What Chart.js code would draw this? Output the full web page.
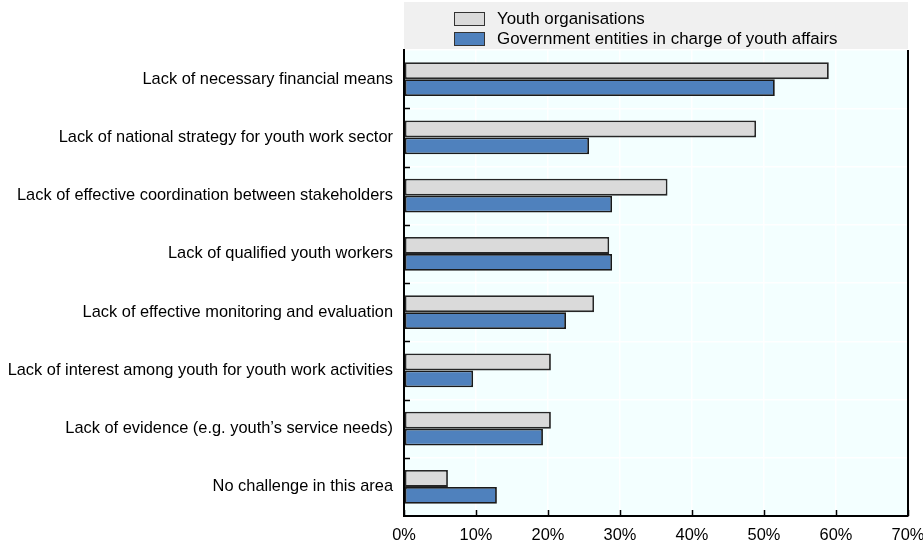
<!DOCTYPE html>
<html>
<head>
<meta charset="utf-8">
<script src="https://cdn.jsdelivr.net/npm/chart.js@4"></script>
<style>
  html, body { margin: 0; padding: 0; background: #fff; }
  #wrap { width: 923px; height: 549px; position: relative; }
</style>
</head>
<body>
<div id="wrap"><canvas id="chart"></canvas></div>
<script>
// challenges, top to bottom
const categories = [
  'Lack of necessary financial means',
  'Lack of national strategy for youth work sector',
  'Lack of effective coordination between stakeholders',
  'Lack of qualified youth workers',
  'Lack of effective monitoring and evaluation',
  'Lack of interest among youth for youth work activities',
  'Lack of evidence (e.g. youth\u2019s service needs)',
  'No challenge in this area'
];
const youthOrgs = [59.0, 48.9, 36.6, 28.5, 26.4, 20.4, 20.4, 6.1];
const govEntities = [51.5, 25.7, 28.9, 28.9, 22.5, 9.6, 19.3, 12.9];
const seriesNames = ['Youth organisations', 'Government entities in charge of youth affairs'];
const xTicks = [0, 10, 20, 30, 40, 50, 60, 70];

const FONT = '"Liberation Sans", Arial, sans-serif';
const FONT_SIZE = 16.4;
const LEGEND_FONT_SIZE = 16.9;
const PLOT_LEFT = 404;
const PLOT_RIGHT = 908;
const PLOT_TOP = 50;
const PLOT_BOTTOM = 516;

// legend band + frame + inward tick marks
const decor = {
  id: 'decor',
  beforeDraw(chart) {
    const ctx = chart.ctx;
    const a = chart.chartArea;
    ctx.save();
    ctx.fillStyle = '#f0f0f0';
    ctx.fillRect(a.left, 2, a.right - a.left, a.top - 3);
    ctx.fillStyle = '#f3ffff';
    ctx.fillRect(a.left, a.top, a.right - a.left, a.bottom - a.top);
    ctx.restore();
  },
  afterDraw(chart) {
    const ctx = chart.ctx;
    const a = chart.chartArea;
    const x = chart.scales.x;
    const y = chart.scales.y;
    ctx.save();
    ctx.strokeStyle = '#000';
    ctx.lineWidth = 2;
    ctx.beginPath();
    ctx.moveTo(a.right, a.top);
    ctx.lineTo(a.right, a.bottom);
    ctx.stroke();

    ctx.lineWidth = 1.5;
    ctx.beginPath();
    xTicks.forEach(v => {
      const px = Math.round(x.getPixelForValue(v)) + 0.5;
      ctx.moveTo(px, a.bottom);
      ctx.lineTo(px, a.bottom - 6);
    });
    for (let i = 0; i < categories.length - 1; i++) {
      const py = Math.round((y.getPixelForValue(i) + y.getPixelForValue(i + 1)) / 2) + 0.5;
      ctx.moveTo(a.left, py);
      ctx.lineTo(a.left + 6, py);
    }
    ctx.stroke();

    // legend
    const ds = chart.data.datasets;
    ctx.font = LEGEND_FONT_SIZE + 'px ' + FONT;
    ctx.textBaseline = 'middle';
    ds.forEach((d, i) => {
      const top = 12 + i * 20;
      ctx.fillStyle = d.backgroundColor;
      ctx.fillRect(454, top, 30, 13);
      ctx.strokeStyle = '#333';
      ctx.lineWidth = 1;
      ctx.strokeRect(454.5, top + 0.5, 30, 13);
      ctx.fillStyle = '#000';
      ctx.fillText(d.label, 497, top + 7);
    });
    ctx.restore();
  }
};

new Chart(document.getElementById('chart'), {
  type: 'bar',
  data: {
    labels: categories,
    datasets: [
      {
        label: seriesNames[0],
        data: youthOrgs,
        backgroundColor: '#dadada',
        borderColor: '#262626',
        borderWidth: 1.8,
        borderSkipped: false
      },
      {
        label: seriesNames[1],
        data: govEntities,
        backgroundColor: '#4f81bd',
        borderColor: '#1a1a1a',
        borderWidth: 1.8,
        borderSkipped: false
      }
    ]
  },
  options: {
    indexAxis: 'y',
    responsive: true,
    maintainAspectRatio: false,
    animation: false,
    categoryPercentage: 0.58,
    barPercentage: 1.0,
    layout: { padding: { top: PLOT_TOP, right: 923 - PLOT_RIGHT, bottom: 0, left: 0 } },
    plugins: {
      legend: { display: false },
      tooltip: { enabled: false }
    },
    scales: {
      x: {
        min: 0,
        max: 70,
        afterFit(s) {
          s.height = 549 - PLOT_BOTTOM;
          s.paddingLeft = 0;
          s.paddingRight = 0;
        },
        afterBuildTicks(s) { s.ticks = xTicks.map(v => ({ value: v })); },
        ticks: {
          color: '#000',
          font: { family: FONT, size: FONT_SIZE },
          padding: 10,
          callback: v => v + '%'
        },
        grid: { color: '#ffffff', lineWidth: 1.5, drawTicks: false },
        border: { color: '#000', width: 2 }
      },
      y: {
        afterFit(s) {
          s.width = PLOT_LEFT;
          s.paddingTop = 0;
          s.paddingBottom = 0;
        },
        ticks: {
          color: '#000',
          font: { family: FONT, size: FONT_SIZE },
          padding: 11
        },
        grid: { color: '#ffffff', lineWidth: 1.5, drawTicks: false, offset: true },
        border: { color: '#000', width: 2 }
      }
    }
  },
  plugins: [decor]
});
</script>
</body>
</html>
